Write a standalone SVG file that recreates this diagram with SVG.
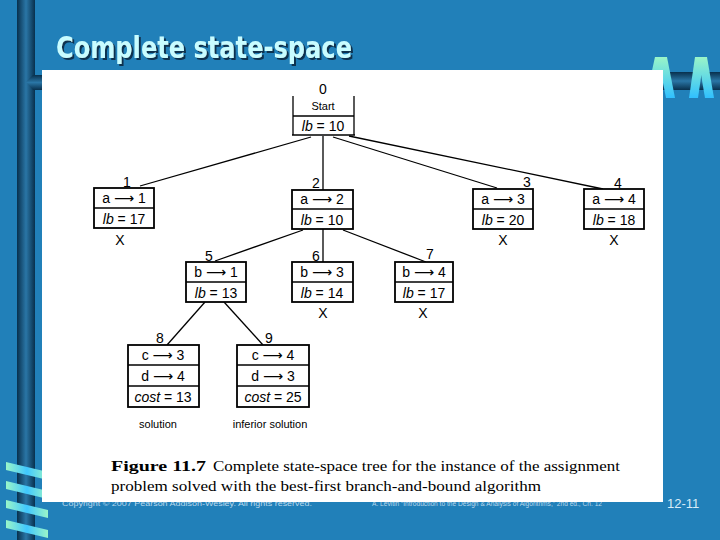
<svg xmlns="http://www.w3.org/2000/svg" width="720" height="540" viewBox="0 0 720 540">
<defs>
<linearGradient id="vbar" x1="0" y1="0" x2="1" y2="0">
<stop offset="0" stop-color="#08304d"/><stop offset="0.5" stop-color="#2a76a6"/><stop offset="1" stop-color="#08304d"/>
</linearGradient>
<linearGradient id="hbar" x1="0" y1="0" x2="0" y2="1">
<stop offset="0" stop-color="#08304d"/><stop offset="0.5" stop-color="#2a76a6"/><stop offset="1" stop-color="#08304d"/>
</linearGradient>
<linearGradient id="stripeV" x1="0" y1="0" x2="0" y2="1">
<stop offset="0" stop-color="#9af5c8"/><stop offset="1" stop-color="#30c0ff"/>
</linearGradient>
<linearGradient id="stripeH" x1="0" y1="0" x2="1" y2="0">
<stop offset="0" stop-color="#9af5c8"/><stop offset="0.5" stop-color="#40c8ff"/><stop offset="1" stop-color="#9af5c8"/>
</linearGradient>
<filter id="shadow" x="-5%" y="-20%" width="110%" height="140%">
<feDropShadow dx="2" dy="2" stdDeviation="0.6" flood-color="#0b3350" flood-opacity="1"/>
</filter>
<style>
.box{fill:#fff;stroke:#000;stroke-width:1.8}
.ln{stroke:#000;stroke-width:1.3;fill:none}
.t{font-family:"Liberation Sans","DejaVu Sans",sans-serif;font-size:14px;fill:#000;text-anchor:middle}
.s{font-family:"Liberation Sans","DejaVu Sans",sans-serif;font-size:11px;fill:#000;text-anchor:middle}
.it{font-style:italic}
.cap{font-family:"Liberation Serif",serif;font-size:15px;fill:#000}
.foot{font-family:"Liberation Sans",sans-serif;fill:#b9d8ec}
</style>
</defs>
<rect x="0" y="0" width="720" height="540" fill="#2180b9"/>
<!-- left decoration -->
<rect x="17" y="0" width="18" height="540" fill="url(#vbar)"/>
<path d="M26,82 L33,75 L42,75 L42,90 L33,90 Z" fill="url(#hbar)"/>
<g fill="url(#stripeH)">
<polygon points="6,462 48,472 48,480 6,470"/>
<polygon points="6,481 48,491 48,499 6,489"/>
<polygon points="6,500 48,510 48,518 6,508"/>
<polygon points="6,520 48,530 48,538 6,528"/>
</g>
<!-- footer (partly under the panel) -->
<text class="foot" x="62" y="506" font-size="8" textLength="250" lengthAdjust="spacingAndGlyphs">Copyright © 2007 Pearson Addison-Wesley. All rights reserved.</text>
<text class="foot" x="372" y="506" font-size="6.5" textLength="230" lengthAdjust="spacingAndGlyphs">A. Levitin “Introduction to the Design &amp; Analysis of Algorithms,” 2nd ed., Ch. 12</text>
<text x="667" y="508" font-family="Liberation Sans, sans-serif" font-size="13" fill="#d8ecf8">12-11</text>
<!-- right decoration -->
<rect x="655" y="72" width="65" height="18" fill="url(#hbar)"/>
<g fill="url(#stripeV)">
<polygon points="655,57 664,57 655,98 646,98"/>
<polygon points="658,57 667,57 675,98 666,98"/>
<polygon points="695,57 704,57 698,98 689,98"/>
<polygon points="698,57 707,57 714,98 705,98"/>
</g>
<!-- white panel -->
<rect x="42" y="70" width="621" height="432" fill="#fff"/>
<!-- title -->
<text x="56" y="58" font-family="DejaVu Sans, sans-serif" font-weight="bold" font-size="31" fill="#c8fcff" filter="url(#shadow)" textLength="296" lengthAdjust="spacingAndGlyphs">Complete state-space</text>
<!-- connectors -->
<g id="connectors" class="ln">
<line x1="311" y1="137" x2="140" y2="186"/>
<line x1="323" y1="136" x2="323" y2="190"/>
<line x1="333" y1="137" x2="497" y2="188"/>
<line x1="349" y1="136" x2="603" y2="189"/>
<line x1="303" y1="230" x2="215" y2="261"/>
<line x1="323" y1="229" x2="323" y2="262"/>
<line x1="343" y1="230" x2="426" y2="262"/>
<line x1="205" y1="302" x2="167" y2="345"/>
<line x1="224" y1="302" x2="263" y2="345"/>
</g>
<!-- nodes -->
<g id="node0">
<text class="t" x="323" y="94">0</text>
<line class="ln" x1="293" y1="96" x2="293" y2="135" stroke-width="2"/>
<line class="ln" x1="354" y1="96" x2="354" y2="135"/>
<line class="ln" x1="293" y1="116" x2="354" y2="116"/>
<line class="ln" x1="292" y1="135" x2="355" y2="135" stroke-width="2.5"/>
<text class="s" x="323" y="110">Start</text>
<text class="t" x="323" y="131"><tspan class="it">lb</tspan> = 10</text>
</g>
<g id="node1">
<text class="t" x="127" y="187">1</text>
<rect class="box" x="94" y="188" width="60" height="40"/>
<line class="ln" x1="94" y1="208" x2="154" y2="208"/>
<text class="t" x="124" y="203">a ⟶ 1</text>
<text class="t" x="124" y="224"><tspan class="it">lb</tspan> = 17</text>
<text class="t" x="120" y="245">X</text>
</g>
<g id="node2">
<text class="t" x="316" y="188">2</text>
<rect class="box" x="292" y="190" width="61" height="39"/>
<line class="ln" x1="292" y1="209" x2="353" y2="209"/>
<text class="t" x="322" y="204">a ⟶ 2</text>
<text class="t" x="322" y="225"><tspan class="it">lb</tspan> = 10</text>
</g>
<g id="node3">
<text class="t" x="527" y="187">3</text>
<rect class="box" x="473" y="189" width="60" height="40"/>
<line class="ln" x1="473" y1="209" x2="533" y2="209"/>
<text class="t" x="503" y="204">a ⟶ 3</text>
<text class="t" x="503" y="225"><tspan class="it">lb</tspan> = 20</text>
<text class="t" x="503" y="245">X</text>
</g>
<g id="node4">
<text class="t" x="618" y="188">4</text>
<rect class="box" x="584" y="189" width="60" height="40"/>
<line class="ln" x1="584" y1="209" x2="644" y2="209"/>
<text class="t" x="614" y="204">a ⟶ 4</text>
<text class="t" x="614" y="225"><tspan class="it">lb</tspan> = 18</text>
<text class="t" x="614" y="245">X</text>
</g>
<g id="node5">
<text class="t" x="209" y="261">5</text>
<rect class="box" x="186" y="262" width="60" height="40"/>
<line class="ln" x1="186" y1="282" x2="246" y2="282"/>
<text class="t" x="216" y="277">b ⟶ 1</text>
<text class="t" x="216" y="298"><tspan class="it">lb</tspan> = 13</text>
</g>
<g id="node6">
<text class="t" x="316" y="261">6</text>
<rect class="box" x="292" y="262" width="61" height="40"/>
<line class="ln" x1="292" y1="282" x2="353" y2="282"/>
<text class="t" x="322" y="277">b ⟶ 3</text>
<text class="t" x="322" y="298"><tspan class="it">lb</tspan> = 14</text>
<text class="t" x="323" y="318">X</text>
</g>
<g id="node7">
<text class="t" x="430" y="259">7</text>
<rect class="box" x="395" y="262" width="58" height="40"/>
<line class="ln" x1="395" y1="282" x2="453" y2="282"/>
<text class="t" x="424" y="277">b ⟶ 4</text>
<text class="t" x="424" y="298"><tspan class="it">lb</tspan> = 17</text>
<text class="t" x="423" y="318">X</text>
</g>
<g id="node8">
<text class="t" x="160" y="343">8</text>
<rect class="box" x="128" y="345" width="71" height="62"/>
<line class="ln" x1="128" y1="365" x2="199" y2="365"/>
<line class="ln" x1="128" y1="386" x2="199" y2="386"/>
<text class="t" x="163" y="360">c ⟶ 3</text>
<text class="t" x="163" y="381">d ⟶ 4</text>
<text class="t" x="163" y="402"><tspan class="it">cost</tspan> = 13</text>
<text class="s" x="158" y="428">solution</text>
</g>
<g id="node9">
<text class="t" x="269" y="343">9</text>
<rect class="box" x="237" y="345" width="72" height="62"/>
<line class="ln" x1="237" y1="365" x2="309" y2="365"/>
<line class="ln" x1="237" y1="386" x2="309" y2="386"/>
<text class="t" x="273" y="360">c ⟶ 4</text>
<text class="t" x="273" y="381">d ⟶ 3</text>
<text class="t" x="273" y="402"><tspan class="it">cost</tspan> = 25</text>
<text class="s" x="270" y="428">inferior solution</text>
</g>
<!-- caption -->
<g id="caption">
<text class="cap" x="111" y="471" font-weight="bold" textLength="95" lengthAdjust="spacingAndGlyphs">Figure 11.7</text>
<text class="cap" x="213" y="471" textLength="407" lengthAdjust="spacingAndGlyphs">Complete state-space tree for the instance of the assignment</text>
<text class="cap" x="111" y="491" textLength="430" lengthAdjust="spacingAndGlyphs">problem solved with the best-first branch-and-bound algorithm</text>
</g>
</svg>
